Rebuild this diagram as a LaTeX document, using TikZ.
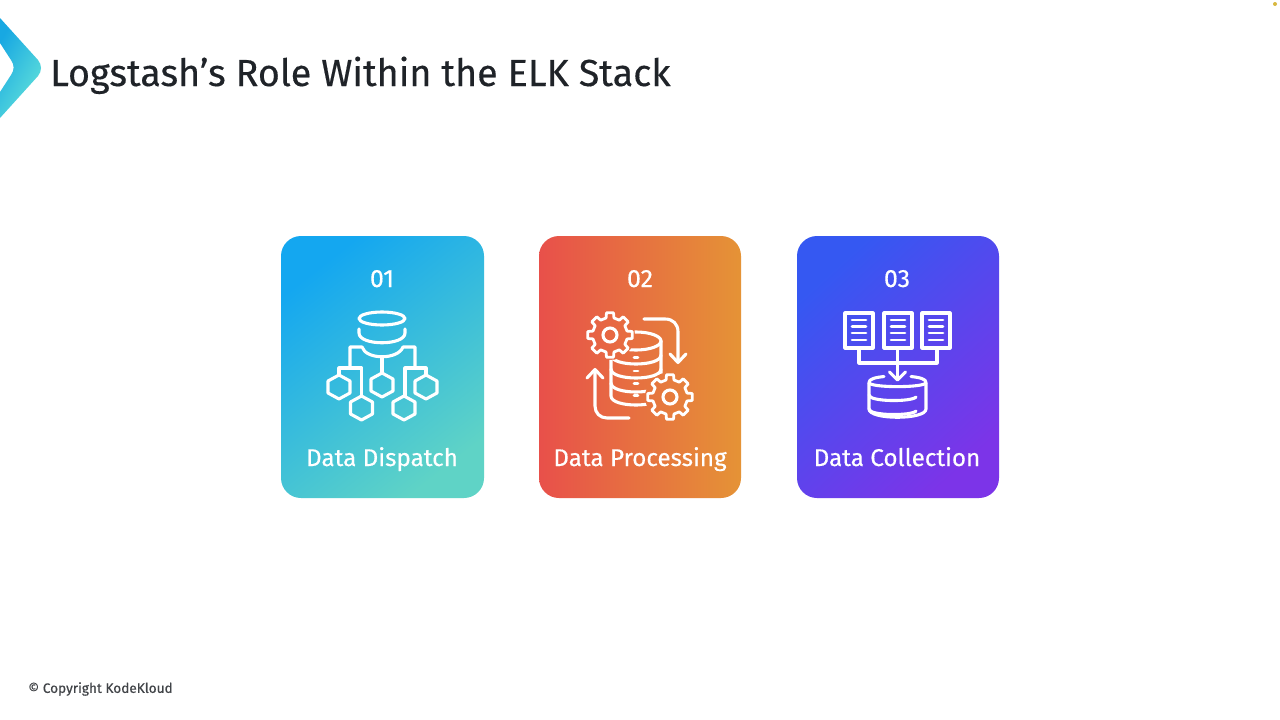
\documentclass[tikz,border=0pt]{standalone}
\usepackage{fontspec}
\setmainfont{Fira Sans}[FakeBold=0.35]
\definecolor{ca}{HTML}{14A7F0}
\definecolor{cb}{HTML}{5FD3C6}
\definecolor{cc}{HTML}{E8504A}
\definecolor{cd}{HTML}{E59336}
\definecolor{ce}{HTML}{3558F2}
\definecolor{cf}{HTML}{7C34E8}
\definecolor{la}{HTML}{18A8E2}
\definecolor{lb}{HTML}{62E2DA}
\definecolor{ink}{HTML}{1F2328}
\definecolor{dot}{HTML}{D8B840}
\tikzset{
  card/.style={rounded corners=20pt},
  icon/.style={draw=white,line width=3.1pt,line join=round,line cap=round},
  thin icon/.style={draw=white,line width=2.7pt,line join=round,line cap=round},
  num/.style={anchor=base,text=white,font=\fontsize{25}{28}\selectfont,inner sep=0pt},
  cardlabel/.style={anchor=base,text=white,font=\fontsize{24.2}{28}\selectfont,inner sep=0pt},
}
\newcommand{\hexat}[2]{\draw[icon,shift={(#1,#2)}] (0,-12) -- (-11,-6) -- (-11,6) -- (0,12) -- (11,6) -- (11,-6) -- cycle;}
\newcommand{\gearat}[3]{%
  \begin{scope}[shift={(#1,#2)},rotate=#3]
  \draw[icon,line width=2.8pt] (-13:17.5) \foreach \a in {0,45,...,315}{ -- (\a-13:17.5) -- (\a-9:22.5) -- (\a+9:22.5) -- (\a+13:17.5)} -- cycle;
  \draw[icon] (0,0) circle[radius=7];
  \end{scope}}
\begin{document}
\begin{tikzpicture}[x=1pt,y=-1pt]
\useasboundingbox (0,0) rectangle (1280,720);
\fill[white] (0,0) rectangle (1280,720);
\fill[dot] (1275,4) circle[radius=2];
% logo
\shade[left color=la,right color=lb,shading angle=60]
  (0,18) -- (38,60) .. controls (42,65) and (42,71) .. (38,76) -- (0,118) -- (0,92) -- (11,75)
  .. controls (14.5,70) and (14.5,65) .. (11,60) -- (0,43) -- cycle;
\node[anchor=base west,inner sep=0pt,text=ink,font=\fontsize{37.7}{44}\selectfont] (title) at (50,86) {Logstash’s Role Within the ELK Stack};
\node[anchor=west,inner sep=0pt,text=ink!85,font=\fontsize{13.6}{17}\selectfont] (copy) at (28,689) {© Copyright KodeKloud};
% cards
\shade[card,left color=ca,right color=cb,shading angle=38] (281,236) rectangle (484,498);
\shade[card,left color=cc,right color=cd] (539,236) rectangle (741,498);
\shade[card,left color=ce,right color=cf,shading angle=42] (797,236) rectangle (999,498);
\node[num] (n1) at (382,287) {01};
\node[num] (n2) at (640,287) {02};
\node[num] (n3) at (897,287) {03};
\node[cardlabel] (l1) at (382,466) {Data Dispatch};
\node[cardlabel] (l2) at (640,466) {Data Processing};
\node[cardlabel] (l3) at (897,466) {Data Collection};
% icon 1
\draw[icon] (382,318.5) ellipse[x radius=23,y radius=6.5];
\draw[icon] (359,329) -- (359,333) .. controls (359,346) and (405,346) .. (405,333) -- (405,329);
\draw[icon] (350,368) -- (350,347) -- (362,347) .. controls (366,360) and (398,360) .. (403,347) -- (415,347) -- (415,368);
\draw[icon] (382,357) -- (382,373);
\draw[icon] (339,375) -- (339,368) -- (361.5,368) -- (361.5,396);
\draw[icon] (426,375) -- (426,368) -- (405,368) -- (405,396);
\hexat{339}{387}
\hexat{361.5}{408}
\hexat{382}{385}
\hexat{404}{408}
\hexat{426}{387}
% icon 2
\begin{scope}[even odd rule]
\clip (560,295) rectangle (720,430) (610,335) circle[radius=25] (670,397) circle[radius=25];
\draw[icon] (636,341) ellipse[x radius=25,y radius=9];
\draw[icon] (611,341) -- (611,396) .. controls (611,408) and (661,408) .. (661,396) -- (661,341);
\draw[icon] (611,355) .. controls (611,367) and (661,367) .. (661,355);
\draw[icon] (611,369) .. controls (611,381) and (661,381) .. (661,369);
\draw[icon] (611,383) .. controls (611,395) and (661,395) .. (661,383);
\foreach \yy in {357.5,371,383.5,395.5}{\draw[thin icon] (634,\yy) -- (638,\yy);}
\end{scope}
\gearat{610}{335}{0}
\gearat{670}{397}{0}
\draw[icon] (644,319) -- (665,319) .. controls (673,319) and (678,324) .. (678,332) -- (678,362);
\draw[icon] (670,354) -- (678,362.5) -- (686,354);
\draw[icon] (629,418) -- (607,418) .. controls (600,418) and (595,413) .. (595,406) -- (595,370);
\draw[icon] (587,378) -- (595,369.5) -- (603,378);
% icon 3
\foreach \xa/\xb in {845/873,884/912,922/950}{
  \draw[icon] (\xa,313) rectangle (\xb,348);
  \foreach \yy in {320,326.5,333,340}{\draw[thin icon] (\xa+7,\yy) -- (\xb-7,\yy);}
}
\draw[icon] (859,348) -- (859,363) -- (937,363) -- (937,348);
\draw[icon] (897.5,348) -- (897.5,379);
\draw[icon] (889.5,372) -- (897.5,380) -- (905.5,372);
\draw[icon] (884,376.5) .. controls (875,377.5) and (869,379) .. (869,382.5) .. controls (869,388) and (926,388) .. (926,382.5) .. controls (926,379) and (920,377.5) .. (911,376.5);
\draw[icon] (869,383) -- (869,409) .. controls (869,420) and (926,420) .. (926,409) -- (926,383);
\draw[icon] (869,395) .. controls (869,402) and (912,402) .. (916,397);
\draw[icon] (869,409) .. controls (869,416) and (912,416) .. (916,411);
\end{tikzpicture}
\end{document}
